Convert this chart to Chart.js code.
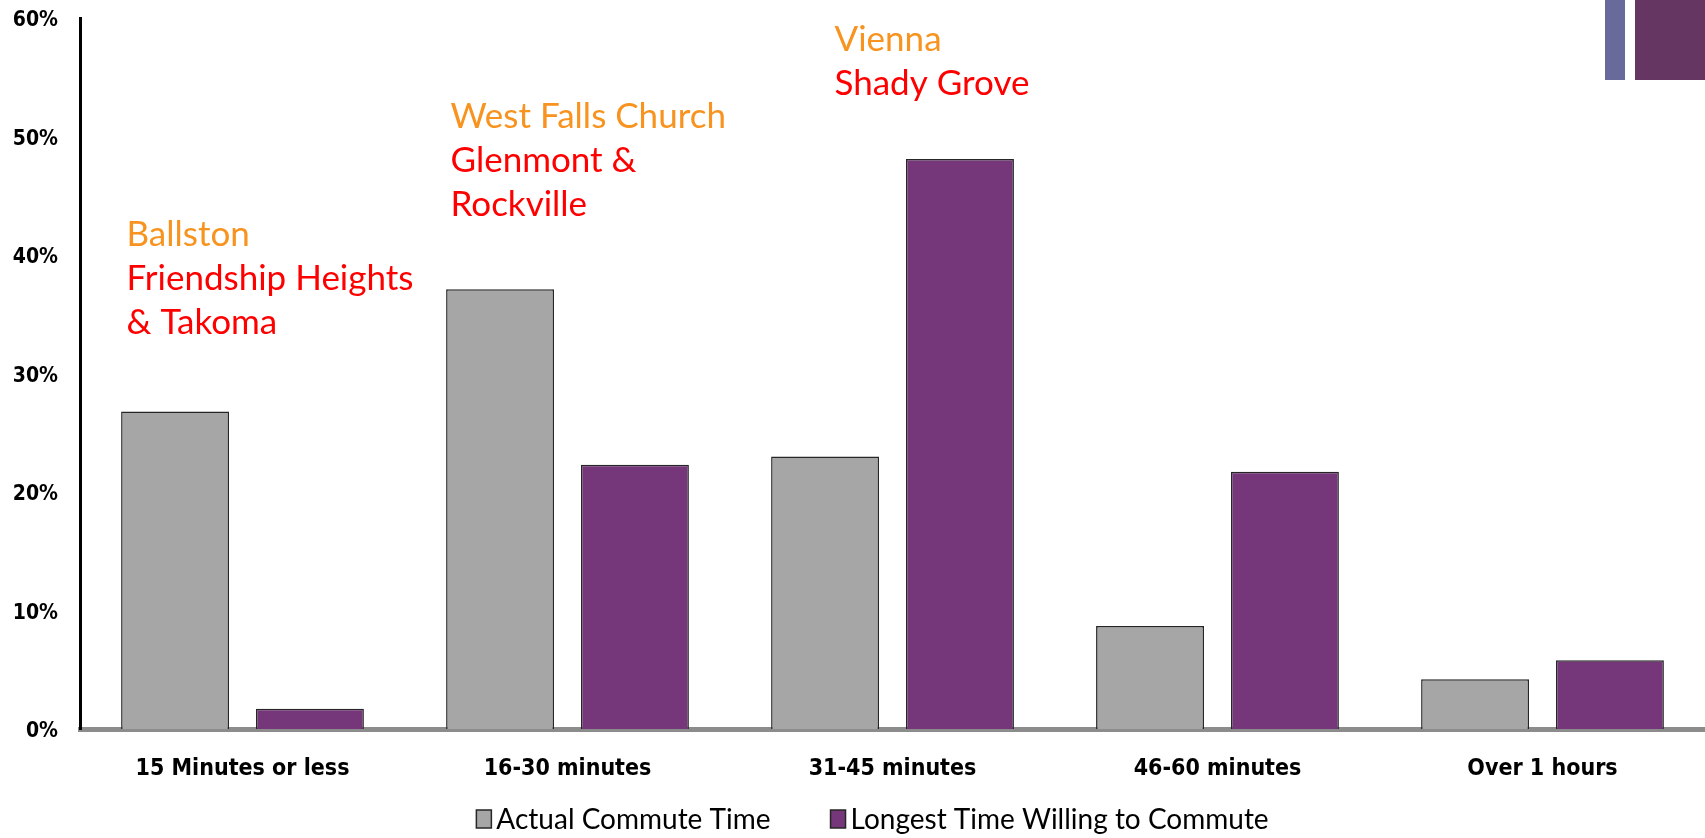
<!DOCTYPE html>
<html>
<head>
<meta charset="utf-8">
<script src="https://cdn.jsdelivr.net/npm/chart.js@4"></script>
<style>
  body { margin: 0; background: #fff; }
  #wrap { position: relative; width: 1705px; height: 838px; }
  .deco { position: absolute; top: 0; height: 80px; }
</style>
</head>
<body>
<div id="wrap">
  <canvas id="commute-chart"></canvas>
  <div class="deco" style="left:1605px;width:20px;background:#676a9a;"></div>
  <div class="deco" style="left:1635px;width:70px;background:#663662;"></div>
</div>
<script>
const categories = ['15 Minutes or less', '16-30 minutes', '31-45 minutes', '46-60 minutes', 'Over 1 hours'];
const actualCommute = [26.8, 37.1, 23.0, 8.7, 4.2];
const willingCommute = [1.7, 22.3, 48.1, 21.7, 5.8];
const seriesNames = ['Actual Commute Time', 'Longest Time Willing to Commute'];

// stations written over each group, orange line first then red line
const orangeLineStops = ['Ballston', 'West Falls Church', 'Vienna'];
const redLineStops = [['Friendship Heights', '& Takoma'], ['Glenmont &', 'Rockville'], ['Shady Grove']];

const tickFamily = '"DejaVu Sans Condensed", "DejaVu Sans"';

// where each station note sits: group index, x shift from group centre, y value of first baseline
const notePlacement = [
    {group: 0, dx: -116, top: 40.8},
    {group: 1, dx: -117, top: 50.7},
    {group: 2, dx: -58, top: 57.2}
];

const stationNotes = {
    id: 'stationNotes',
    afterDatasetsDraw(chart) {
        const {ctx, scales: {x, y}} = chart;
        const lineGap = 44;
        ctx.save();
        ctx.font = '35px Lato';
        ctx.textBaseline = 'alphabetic';
        ctx.textAlign = 'left';
        notePlacement.forEach((p, i) => {
            const px = x.getPixelForValue(p.group) + p.dx;
            let py = y.getPixelForValue(p.top);
            ctx.fillStyle = '#f7931e';
            ctx.fillText(orangeLineStops[i], px, py);
            ctx.fillStyle = '#ff0000';
            redLineStops[i].forEach(line => {
                py += lineGap;
                ctx.fillText(line, px, py);
            });
        });
        ctx.restore();
    }
};

// legend row under the axis, with a wide gap between entries
const bottomLegend = {
    id: 'bottomLegend',
    afterDraw(chart) {
        const {ctx, chartArea} = chart;
        const boxW = 15, boxH = 18, textGap = 5, itemGap = 60;
        const rowY = chart.height - 19;
        ctx.save();
        ctx.font = '28px Lato';
        ctx.textBaseline = 'middle';
        const items = chart.data.datasets.map(ds => ({ds, w: boxW + textGap + ctx.measureText(ds.label).width}));
        const total = items.reduce((s, it) => s + it.w, 0) + itemGap * (items.length - 1);
        let x = (chartArea.left + chartArea.right) / 2 - 20 - total / 2;
        items.forEach(({ds, w}) => {
            ctx.fillStyle = ds.backgroundColor;
            ctx.strokeStyle = ds.borderColor;
            ctx.lineWidth = 1.5;
            ctx.fillRect(x, rowY - boxH / 2, boxW, boxH);
            ctx.strokeRect(x, rowY - boxH / 2, boxW, boxH);
            ctx.fillStyle = '#000';
            ctx.fillText(ds.label, x + boxW + textGap, rowY + 1);
            x += w + itemGap;
        });
        ctx.restore();
    }
};

new Chart(document.getElementById('commute-chart'), {
    type: 'bar',
    data: {
        labels: categories,
        datasets: [
            {label: seriesNames[0], data: actualCommute, backgroundColor: '#a6a6a6', borderColor: '#262626', borderWidth: 1.5},
            {label: seriesNames[1], data: willingCommute, backgroundColor: '#753779', borderColor: '#262626', borderWidth: 1.5}
        ]
    },
    options: {
        responsive: true,
        maintainAspectRatio: false,
        animation: false,
        categoryPercentage: 0.83,
        barPercentage: 0.8,
        layout: {padding: {top: 18, right: 0, left: 0, bottom: 0}},
        scales: {
            x: {
                grid: {display: false, drawTicks: false},
                border: {color: '#8c8c8c', width: 5},
                ticks: {color: '#000', font: {family: tickFamily, weight: 'bold', size: 23}, padding: 26, maxRotation: 0, autoSkip: false},
                afterFit: (s) => { s.height = 109; }
            },
            y: {
                min: 0,
                max: 60,
                grid: {display: false, drawTicks: false},
                border: {color: '#000', width: 3},
                ticks: {stepSize: 10, color: '#000', font: {family: tickFamily, weight: 'bold', size: 21}, padding: 22, labelOffset: 3, callback: v => v + '%'},
                afterFit: (s) => {
                    s.width = 80;
                    s.paddingTop = 0;
                    s.paddingBottom = 0;
                }
            }
        },
        plugins: {
            legend: {display: false},
            tooltip: {enabled: false}
        }
    },
    plugins: [stationNotes, bottomLegend]
});
</script>
</body>
</html>
